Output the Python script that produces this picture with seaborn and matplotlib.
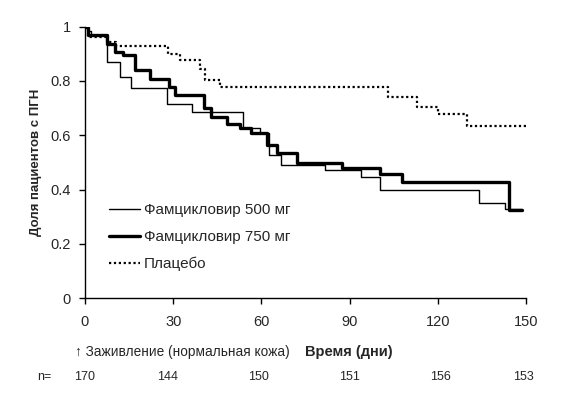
import matplotlib
matplotlib.use("Agg")
import matplotlib.pyplot as plt
import matplotlib.transforms as mtransforms
import pandas as pd
import seaborn as sns
from matplotlib.lines import Line2D

# Kaplan-Meier-like step curves (days, share with PHN)
t_500 = [0, 1, 2, 7.4, 11.9, 15.5, 27.8, 36.5, 53.6, 59.5, 62.5, 66.5, 81.6,
         94.0, 100.3, 134.0, 142.9, 148.5]
s_500 = [1.0, 0.985, 0.97, 0.870, 0.815, 0.775, 0.715, 0.686, 0.627, 0.607,
         0.527, 0.490, 0.471, 0.447, 0.398, 0.351, 0.330, 0.330]

t_750 = [0, 1, 7.4, 10.2, 13.0, 17.0, 22.1, 28.7, 30.6, 40.6, 42.9, 48.2,
         52.7, 56.5, 62.0, 65.2, 72.2, 87.3, 100.3, 107.7, 144.2, 148.5]
s_750 = [1.0, 0.971, 0.938, 0.907, 0.895, 0.840, 0.807, 0.778, 0.748, 0.699,
         0.666, 0.643, 0.625, 0.610, 0.564, 0.533, 0.496, 0.478, 0.457, 0.428,
         0.324, 0.324]

t_pl = [0, 1.1, 7.4, 10.5, 28.3, 32.3, 39.1, 40.8, 45.9, 103.0, 113.0, 120.2,
        129.8, 150.0]
s_pl = [1.0, 0.964, 0.945, 0.928, 0.901, 0.877, 0.843, 0.803, 0.778, 0.741,
        0.705, 0.677, 0.634, 0.634]

labels = ["Фамцикловир 500 мг", "Фамцикловир 750 мг", "Плацебо"]

x_ticks = [0, 30, 60, 90, 120, 150]
y_ticks = [0, 0.2, 0.4, 0.6, 0.8, 1]
y_ticklabels = ["0", "0.2", "0.4", "0.6", "0.8", "1"]

n_days = [0, 28, 59, 90, 121, 149]
n_values = ["170", "144", "150", "151", "156", "153"]

sns.set_theme(style="white")
plt.rcParams["font.family"] = ["Liberation Sans", "DejaVu Sans"]

fig = plt.figure(figsize=(5.7, 3.99), dpi=100)
ax = fig.add_axes([0.149, 0.253, 0.774, 0.68])

styles = [
    dict(color="black", lw=1.0, ls="-"),
    dict(color="black", lw=2.4, ls="-"),
    dict(color="black", lw=1.6, ls=(0, (1, 1.2))),
]
for (t, s), st in zip([(t_500, s_500), (t_750, s_750), (t_pl, s_pl)], styles):
    df = pd.DataFrame({"t": t, "s": s})
    sns.lineplot(data=df, x="t", y="s", ax=ax, drawstyle="steps-post",
                 errorbar=None, **st)

ax.set_xlim(0, 150)
ax.set_ylim(0, 1)
ax.set_xticks(x_ticks)
ax.set_xticklabels([str(v) for v in x_ticks], fontsize=10.5)
ax.set_yticks(y_ticks)
ax.set_yticklabels(y_ticklabels, fontsize=10.5)
ax.tick_params(axis="both", direction="out", length=4, width=1,
               color="black", bottom=True, left=True)
ax.tick_params(axis="x", pad=8)
ax.tick_params(axis="y", pad=6)
for side in ["top", "right"]:
    ax.spines[side].set_visible(False)
for side in ["left", "bottom"]:
    ax.spines[side].set_color("black")
    ax.spines[side].set_linewidth(1)
ax.set_xlabel("")
ax.set_ylabel("Доля пациентов с ПГН", fontsize=9.5, fontweight="bold",
              labelpad=6)

handles = [Line2D([], [], **st) for st in styles]
ax.legend(handles, labels, loc="upper left", bbox_to_anchor=(0.055, 0.35),
          frameon=False, fontsize=11, handlelength=2.0, handletextpad=0.25,
          labelspacing=0.85, borderaxespad=0, borderpad=0)

fig.text(0.131, 0.117, "↑ Заживление (нормальная кожа)", fontsize=9.8,
         va="center", ha="left")
fig.text(0.612, 0.117, "Время (дни)", fontsize=10.5, fontweight="bold",
         va="center", ha="center")

fig.text(0.078, 0.055, "n=", fontsize=9, va="center", ha="center")
row = mtransforms.blended_transform_factory(ax.transData, fig.transFigure)
for d, n in zip(n_days, n_values):
    ax.text(d, 0.055, n, transform=row, fontsize=9, va="center", ha="center")

fig.savefig("out.png", dpi=100)
